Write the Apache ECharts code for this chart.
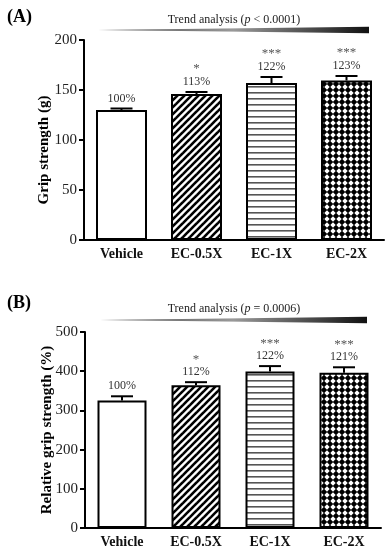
<!DOCTYPE html>
<html><head><meta charset="utf-8">
<script src="https://cdn.jsdelivr.net/npm/echarts@6/dist/echarts.min.js"></script>
<style>html,body{margin:0;padding:0;background:#fff}#c{width:388px;height:550px}</style>
</head><body><div id="c"></div>
<script>
// ---- data ----
const categories = ['Vehicle', 'EC-0.5X', 'EC-1X', 'EC-2X'];
// Panel A: grip strength (g)
const gripMean = [130, 146, 157, 159.5];
const gripErr = [1.5, 2, 6, 4.5];
const gripPct = ['100%', '113%', '122%', '123%'];
const gripStars = ['', '*', '***', '***'];
const gripTicks = [0, 50, 100, 150, 200];
// Panel B: relative grip strength (%)
const relMean = [325, 364, 399, 396];
const relErr = [11, 8, 14, 14];
const relPct = ['100%', '112%', '122%', '121%'];
const relStars = ['', '*', '***', '***'];
const relTicks = [0, 100, 200, 300, 400, 500];

const FONT = '"Liberation Serif", "Times New Roman", serif';

// ---- fill patterns ----
function makeTile(w, h, draw) {
  const c = document.createElement('canvas');
  c.width = w; c.height = h;
  const g = c.getContext('2d');
  draw(g, w, h);
  return c;
}
const diagTile = makeTile(7, 7, (g, w, h) => {
  g.fillStyle = '#fff'; g.fillRect(0, 0, w, h);
  g.strokeStyle = '#000'; g.lineWidth = 2.6;
  [[-w, 0], [0, 0], [w, 0]].forEach(([ox]) => {
    g.beginPath(); g.moveTo(ox - 1, h + 1); g.lineTo(ox + w + 1, -1); g.stroke();
  });
});
const horizTile = makeTile(8, 6, (g, w, h) => {
  g.fillStyle = '#fff'; g.fillRect(0, 0, w, h);
  g.fillStyle = '#555'; g.fillRect(0, 2, w, 1.6);
});
const crossTile = makeTile(6, 6, (g, w, h) => {
  g.fillStyle = '#000'; g.fillRect(0, 0, w, h);
  g.fillStyle = '#fff';
  g.beginPath(); g.moveTo(3, 0.3); g.lineTo(5.7, 3); g.lineTo(3, 5.7); g.lineTo(0.3, 3); g.closePath(); g.fill();
});
const fills = ['#ffffff',
  { image: diagTile, repeat: 'repeat' },
  { image: horizTile, repeat: 'repeat' },
  { image: crossTile, repeat: 'repeat' }];

function barData(vals) {
  return vals.map((v, i) => ({ value: v, itemStyle: { color: fills[i], borderColor: '#000', borderWidth: 2 } }));
}

function errSeries(idx, means, errs, pcts, stars) {
  return {
    type: 'custom', xAxisIndex: idx, yAxisIndex: idx, clip: false, z: 5,
    data: means.map((m, i) => [i, m, errs[i]]),
    renderItem: function (params, api) {
      const i = params.dataIndex;
      const base = api.coord([api.value(0), api.value(1)]);
      const top = api.coord([api.value(0), api.value(1) + api.value(2)]);
      const cap = 11;
      const children = [
        { type: 'line', shape: { x1: base[0], y1: base[1], x2: top[0], y2: top[1] }, style: { stroke: '#000', lineWidth: 2 } },
        { type: 'line', shape: { x1: top[0] - cap, y1: top[1], x2: top[0] + cap, y2: top[1] }, style: { stroke: '#000', lineWidth: 2 } },
        { type: 'text', style: { text: pcts[i], x: top[0], y: top[1] - 10, textAlign: 'center', textVerticalAlign: 'middle', font: '12px ' + FONT, fill: '#333' } }
      ];
      if (stars[i]) children.push({ type: 'text', style: { text: stars[i], x: top[0], y: top[1] - 23, textAlign: 'center', textVerticalAlign: 'middle', font: '13px ' + FONT, fill: '#555' } });
      return { type: 'group', children: children };
    }
  };
}

function yAx(idx, ticks, name, gap, pad) {
  return {
    type: 'value', gridIndex: idx, min: ticks[0], max: ticks[ticks.length - 1], interval: ticks[1] - ticks[0],
    name: name, nameLocation: 'middle', nameGap: gap, nameMoveOverlap: false,
    nameTextStyle: { fontFamily: FONT, fontWeight: 'bold', fontSize: 15, color: '#000', padding: pad },
    axisLine: { show: true, lineStyle: { color: '#000', width: 2 } },
    axisTick: { show: true, length: 5, lineStyle: { color: '#000', width: 2 } },
    axisLabel: { fontFamily: FONT, fontSize: 15, color: '#222', margin: 7 },
    splitLine: { show: false }
  };
}
function xAx(idx) {
  return {
    type: 'category', gridIndex: idx, data: categories,
    axisLine: { show: true, lineStyle: { color: '#000', width: 2 } },
    axisTick: { show: false },
    axisLabel: { fontFamily: FONT, fontSize: 14, fontWeight: 'bold', color: '#111', margin: 7 }
  };
}

function wedge(x1, x2, yMid, h) {
  return {
    type: 'polygon',
    shape: { points: [[x1, yMid], [x2, yMid - h / 2], [x2, yMid + h / 2]] },
    style: { fill: new echarts.graphic.LinearGradient(0, 0, 1, 0, [
      { offset: 0, color: '#444' }, { offset: 0.5, color: '#999' }, { offset: 1, color: '#111' }]) }
  };
}

const chart = echarts.init(document.getElementById('c'), null, { renderer: 'canvas' });
chart.setOption({
  backgroundColor: '#fff',
  animation: false,
  grid: [
    { left: 84, width: 300, top: 40, height: 200 },
    { left: 85, width: 296, top: 332, height: 196 }
  ],
  xAxis: [xAx(0), xAx(1)],
  yAxis: [yAx(0, gripTicks, 'Grip strength (g)', 32, [0, 20, 0, 0]), yAx(1, relTicks, 'Relative grip strength (%)', 30, [0, 0, 0, 0])],
  series: [
    { type: 'bar', xAxisIndex: 0, yAxisIndex: 0, barWidth: 51, data: barData(gripMean) },
    errSeries(0, gripMean, gripErr, gripPct, gripStars),
    { type: 'bar', xAxisIndex: 1, yAxisIndex: 1, barWidth: 49, data: barData(relMean) },
    errSeries(1, relMean, relErr, relPct, relStars)
  ],
  graphic: [
    { type: 'text', left: 7, top: 8, style: { text: '(A)', font: 'bold 18px ' + FONT, fill: '#000' } },
    { type: 'text', left: 7, top: 294, style: { text: '(B)', font: 'bold 18px ' + FONT, fill: '#000' } },
    { type: 'text', x: 234, y: 20, style: { rich: { n: { fontFamily: FONT, fontSize: 12, fill: '#222' }, i: { fontFamily: FONT, fontSize: 12, fontStyle: 'italic', fill: '#222' } }, text: '{n|Trend analysis (}{i|p}{n| < 0.0001)}', textAlign: 'center', textVerticalAlign: 'middle' } },
    { type: 'text', x: 234, y: 309, style: { rich: { n: { fontFamily: FONT, fontSize: 12, fill: '#222' }, i: { fontFamily: FONT, fontSize: 12, fontStyle: 'italic', fill: '#222' } }, text: '{n|Trend analysis (}{i|p}{n| = 0.0006)}', textAlign: 'center', textVerticalAlign: 'middle' } },
    wedge(98, 369, 30, 6.5),
    wedge(100, 367, 320, 6.5)
  ]
});
</script></body></html>
